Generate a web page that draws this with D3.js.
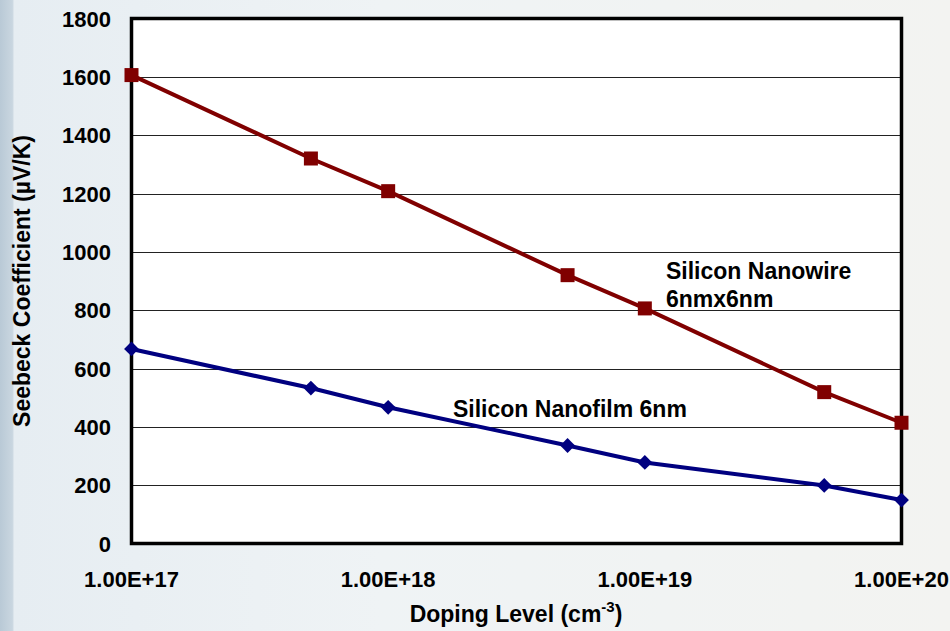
<!DOCTYPE html>
<html>
<head>
<meta charset="utf-8">
<script src="https://cdn.jsdelivr.net/npm/d3@7.9.0/dist/d3.min.js"></script>
<style>
  html, body { margin: 0; padding: 0; }
  body { width: 950px; height: 631px; overflow: hidden; font-family: "Liberation Sans", Arial, sans-serif; }
</style>
</head>
<body>
<div id="chart"></div>
<script>
// doping levels (cm^-3)
const doping = [1e17, 5e17, 1e18, 5e18, 1e19, 5e19, 1e20];
const nanowire = [1606, 1320, 1208, 920, 806, 519, 414];
const nanofilm = [667, 533, 467, 336, 278, 199, 149];
const yTicks = [0, 200, 400, 600, 800, 1000, 1200, 1400, 1600, 1800];
const xTicks = [1e17, 1e18, 1e19, 1e20];
const xTickLabels = ['1.00E+17', '1.00E+18', '1.00E+19', '1.00E+20'];

const width = 950;
const height = 631;
const margin = { top: 18.5, right: 48.5, bottom: 87.5, left: 131.5 };

const svg = d3.select('#chart')
  .append('svg')
  .attr('width', width)
  .attr('height', height);

// background
const defs = svg.append('defs');
const grad = defs.append('linearGradient').attr('id', 'bg').attr('x1', 0).attr('x2', 1).attr('y1', 0).attr('y2', 0);
grad.append('stop').attr('offset', '0%').attr('stop-color', '#b9c9d6');
grad.append('stop').attr('offset', '1.3%').attr('stop-color', '#c9d6e0');
grad.append('stop').attr('offset', '1.5%').attr('stop-color', '#e6edf2');
grad.append('stop').attr('offset', '40%').attr('stop-color', '#eff3f5');
grad.append('stop').attr('offset', '100%').attr('stop-color', '#f3f3f1');
svg.append('rect').attr('width', width).attr('height', height).attr('fill', 'url(#bg)');

const x = d3.scaleLog()
  .domain([1e17, 1e20])
  .range([margin.left, width - margin.right]);

const y = d3.scaleLinear()
  .domain([0, 1800])
  .range([height - margin.bottom, margin.top]);

// plot area
svg.append('rect')
  .attr('x', margin.left)
  .attr('y', margin.top)
  .attr('width', x(1e20) - x(1e17))
  .attr('height', y(0) - y(1800))
  .attr('fill', '#fff');

// gridlines
svg.append('g')
  .attr('class', 'gridlines')
  .selectAll('line')
  .data(yTicks.slice(1, -1))
  .join('line')
  .attr('x1', x(1e17))
  .attr('x2', x(1e20))
  .attr('y1', (d) => Math.round(y(d)) + 0.5)
  .attr('y2', (d) => Math.round(y(d)) + 0.5)
  .attr('stroke', '#222')
  .attr('stroke-width', 1);

// frame
svg.append('rect')
  .attr('x', margin.left)
  .attr('y', margin.top)
  .attr('width', x(1e20) - x(1e17))
  .attr('height', y(0) - y(1800))
  .attr('fill', 'none')
  .attr('stroke', '#000')
  .attr('stroke-width', 3.5);

// y tick labels
svg.append('g')
  .selectAll('text')
  .data(yTicks)
  .join('text')
  .attr('x', 111)
  .attr('y', (d) => y(d) + 8)
  .attr('text-anchor', 'end')
  .attr('font-size', 22)
  .attr('font-weight', 'bold')
  .text((d) => d);

// x tick labels
svg.append('g')
  .selectAll('text')
  .data(xTicks)
  .join('text')
  .attr('x', (d) => x(d))
  .attr('y', 587)
  .attr('text-anchor', 'middle')
  .attr('font-size', 22)
  .attr('font-weight', 'bold')
  .text((d, i) => xTickLabels[i]);

// axis titles
const xTitle = svg.append('text')
  .attr('x', 516)
  .attr('y', 622)
  .attr('text-anchor', 'middle')
  .attr('font-size', 23)
  .attr('font-weight', 'bold');
xTitle.append('tspan').text('Doping Level (cm');
xTitle.append('tspan').attr('dy', -10).attr('font-size', 15).text('-3');
xTitle.append('tspan').attr('dy', 10).text(')');

svg.append('text')
  .attr('transform', `translate(30, ${y(900)}) rotate(-90)`)
  .attr('text-anchor', 'middle')
  .attr('font-size', 23)
  .attr('font-weight', 'bold')
  .text('Seebeck Coefficient (\u00b5V/K)');

// series
const line = d3.line()
  .x((d) => x(d[0]))
  .y((d) => y(d[1]));

const wireData = d3.zip(doping, nanowire);
const filmData = d3.zip(doping, nanofilm);

svg.append('path')
  .datum(filmData)
  .attr('d', line)
  .attr('fill', 'none')
  .attr('stroke', '#000080')
  .attr('stroke-width', 4);

svg.append('path')
  .datum(wireData)
  .attr('d', line)
  .attr('fill', 'none')
  .attr('stroke', '#800000')
  .attr('stroke-width', 4);

svg.append('g')
  .selectAll('path')
  .data(filmData)
  .join('path')
  .attr('d', d3.symbol(d3.symbolSquare, 110))
  .attr('transform', (d) => `translate(${x(d[0])}, ${y(d[1])}) rotate(45)`)
  .attr('fill', '#000080');

svg.append('g')
  .selectAll('rect')
  .data(wireData)
  .join('rect')
  .attr('x', (d) => x(d[0]) - 7)
  .attr('y', (d) => y(d[1]) - 7)
  .attr('width', 14)
  .attr('height', 14)
  .attr('fill', '#800000');

// annotations
const ann = svg.append('g')
  .attr('font-size', 23)
  .attr('font-weight', 'bold');
ann.append('text').attr('x', 666).attr('y', 279).text('Silicon Nanowire');
ann.append('text').attr('x', 666).attr('y', 307).text('6nmx6nm');
ann.append('text').attr('x', 453).attr('y', 417).text('Silicon Nanofilm 6nm');
</script>
</body>
</html>
